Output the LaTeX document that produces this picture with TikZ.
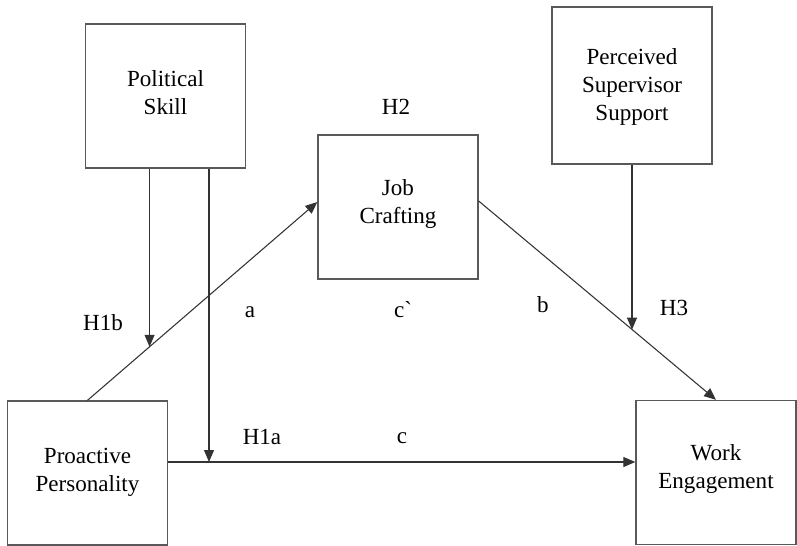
\documentclass[tikz,border=0pt]{standalone}
\usepackage{fontspec}
\setmainfont{Liberation Serif}
\usetikzlibrary{arrows.meta}

\begin{document}
\begin{tikzpicture}[x=0.75pt,y=-0.75pt,->,>={Triangle[length=9pt,width=7.5pt]},line width=0.8pt,font=\fontsize{17.3}{21}\selectfont]
\tikzstyle{box}=[draw=black!65,line width=1pt,align=center,inner sep=0pt,minimum width=120pt,minimum height=108pt]
\tikzstyle{lbl}=[inner sep=0pt]
\useasboundingbox (0,0) rectangle (797,546);
\node[box,text depth=6pt] (PS) at (165.5,96) {Political\\Skill};
\node[box,text depth=7.6pt] (JC) at (398,207) {Job\\Crafting};
\node[box,text depth=0.8pt,minimum height=117.75pt] (PSS) at (632,85.5) {Perceived\\Supervisor\\Support};
\node[box,text depth=5.3pt] (PP) at (87.5,473) {Proactive\\Personality};
\node[box,text depth=8.3pt] (WE) at (716,472.5) {Work\\Engagement};

\path (PP.north) -- ([yshift=3.75pt]JC.west) coordinate[pos=0.27] (h1b);
\path ([yshift=4.5pt]JC.east) -- (WE.north) coordinate[pos=0.647] (h3);
\coordinate (h1a) at (209,462);

\path[color=black!80] (PP.north) edge ([yshift=3.75pt]JC.west)
      ([yshift=4.5pt]JC.east) edge (WE.north)
      (PP.east |- h1a) edge (WE.west |- h1a)
      (PS.south -| h1b) edge (h1b)
      (PS.south -| h1a) edge (h1a)
      (PSS.south) edge (PSS.south |- h3);

\node[lbl] (H2) at (396,107) {H2};
\node[lbl] (H1b) at (103,323) {H1b};
\node[lbl] (a) at (250,312) {a};
\node[lbl] (cp) at (403,310) {c\textasciigrave};
\node[lbl] (b) at (543,305) {b};
\node[lbl] (H3) at (674,308) {H3};
\node[lbl] (H1a) at (262,437) {H1a};
\node[lbl] (c) at (402,438) {c};
\end{tikzpicture}
\end{document}
